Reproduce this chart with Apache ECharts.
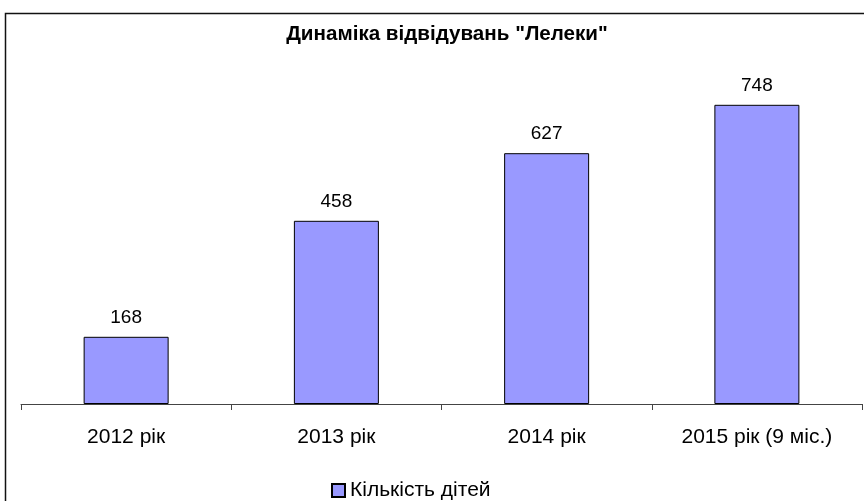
<!DOCTYPE html>
<html>
<head>
<meta charset="utf-8">
<script src="https://cdn.jsdelivr.net/npm/echarts@6/dist/echarts.min.js"></script>
<style>
  html, body { margin: 0; padding: 0; background: #fff; }
  #chart { width: 864px; height: 501px; }
</style>
</head>
<body>
<div id="chart"></div>
<script>
// дані діаграми
const categories = ['2012 рік', '2013 рік', '2014 рік', '2015 рік (9 міс.)'];
const visits = [168, 458, 627, 748];
const seriesName = 'Кількість дітей';
const titleText = 'Динаміка відвідувань "Лелеки"';

const font = '"Liberation Sans", Arial, sans-serif';
const barColor = '#9999ff';

let myChart = echarts.init(document.getElementById('chart'));
myChart.setOption({
  animation: false,
  backgroundColor: '#fff',
  title: {
    text: titleText,
    left: 442,
    top: 19,
    textAlign: 'center',
    textStyle: { fontFamily: font, fontSize: 20.6, fontWeight: 'bold', color: '#000' }
  },
  legend: {
    data: [seriesName],
    left: 326,
    top: 475,
    itemWidth: 13,
    itemHeight: 13,
    itemGap: 0,
    textStyle: { fontFamily: font, fontSize: 21, color: '#000' },
    icon: 'rect'
  },
  grid: { left: 21, right: 2, top: 84, bottom: 97, containLabel: false },
  xAxis: {
    type: 'category',
    data: categories,
    axisLine: { lineStyle: { color: '#444', width: 1 } },
    axisTick: { show: true, length: 6, lineStyle: { color: '#444', width: 1 } },
    axisLabel: { fontFamily: font, fontSize: 21, color: '#000', margin: 23 }
  },
  yAxis: {
    type: 'value',
    min: 0,
    max: 800,
    show: false,
    splitLine: { show: false }
  },
  series: [{
    name: seriesName,
    type: 'bar',
    data: visits,
    barWidth: 85,
    itemStyle: { color: barColor, borderColor: '#000', borderWidth: 1 },
    label: {
      show: true,
      position: 'top',
      distance: 10,
      fontFamily: font,
      fontSize: 19,
      color: '#000'
    }
  }],
  graphic: [{
    type: 'rect',
    shape: { x: 5.5, y: 13.5, width: 900, height: 600 },
    style: { fill: 'none', stroke: '#111', lineWidth: 1.5 },
    silent: true,
    z: -1
  }]
});
</script>
</body>
</html>
